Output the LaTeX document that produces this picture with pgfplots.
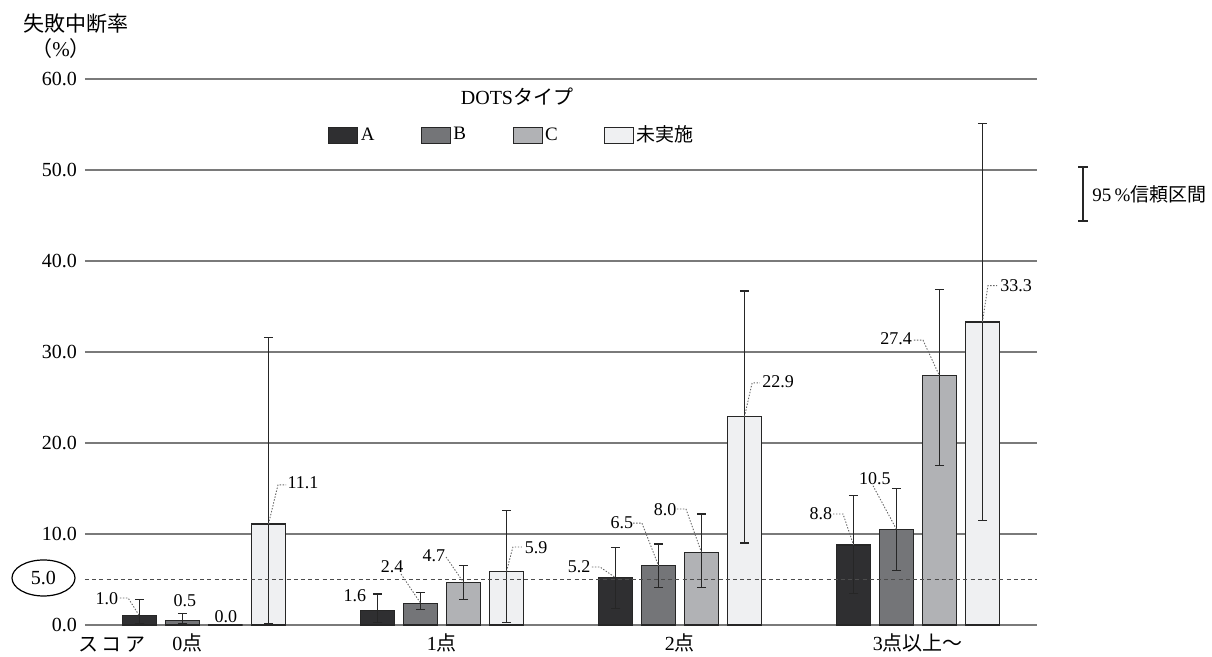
\documentclass[border=0pt]{standalone}
\usepackage{pgfplots}
\usepackage{pgfplotstable}
\pgfplotsset{compat=1.18}
\usetikzlibrary{shapes.geometric}
\usepackage{fontspec}
\setmainfont{Liberation Serif}
\newfontfamily\cjk{Noto Sans CJK JP}
\definecolor{colA}{HTML}{2F2F31}
\definecolor{colB}{HTML}{747578}
\definecolor{colC}{HTML}{B1B2B5}
\definecolor{colD}{HTML}{EFF0F2}
\definecolor{gridc}{HTML}{7A7A7A}

\pgfplotstableread{
x y lo hi
0 1.0 0.2 2.8
1 1.6 0.3 3.4
2 5.2 1.8 8.5
3 8.8 3.5 14.2
}\dataA
\pgfplotstableread{
x y lo hi
0 0.5 0.2 1.3
1 2.4 1.7 3.6
2 6.5 4.1 8.9
3 10.5 6.0 15.0
}\dataB
\pgfplotstableread{
x y lo hi
0 0.0 0.0 0.0
1 4.7 2.8 6.5
2 8.0 4.1 12.2
3 27.4 17.5 36.9
}\dataC
\pgfplotstableread{
x y lo hi
0 11.1 0.2 31.6
1 5.9 0.3 12.6
2 22.9 9.0 36.7
3 33.3 11.5 55.1
}\dataD

\tikzset{lead/.style={draw=black!60, line width=0.45pt, dash pattern=on 0.7pt off 0.8pt},
         vl/.style={font=\fontsize{9}{10}\selectfont, inner sep=0pt}}
\pgfplotsset{ebar/.style={error bars/.cd, y dir=both, y explicit,
    error bar style={black!85, line width=0.6pt},
    error mark options={rotate=90, black!85, line width=0.6pt, mark size=2.3pt}}}

\begin{document}
\begin{tikzpicture}
\path[use as bounding box] (0pt,0pt) rectangle (606pt,328.5pt);
\begin{axis}[
  at={(42.5pt,16pt)}, anchor=south west,
  width=476pt, height=273pt, scale only axis,
  xmin=-0.5, xmax=3.5, ymin=0, ymax=60,
  clip=false,
  axis line style={draw=none},
  major tick length=0pt,
  ytick={0,10,20,30,40,50,60},
  ymajorgrids, grid style={draw=gridc, line width=0.6pt},
  yticklabel style={/pgf/number format/fixed, /pgf/number format/fixed zerofill, /pgf/number format/precision=1, /pgf/number format/assume math mode=true, font=\fontsize{10}{12}\selectfont, xshift=-0.5pt},
  xtick={-0.07,1,2,3},
  xticklabels={{0{\cjk 点}},{1{\cjk 点}},{2{\cjk 点}},{3{\cjk 点以上～}}},
  xticklabel style={font=\fontsize{10}{12}\selectfont, yshift=-1pt},
  legend columns=4,
  legend style={at={(0.255,0.897)}, anchor=west, draw=none, fill=none, inner sep=0pt,
    nodes={font=\fontsize{9.5}{11}\selectfont, inner sep=1.2pt},
    /tikz/every even column/.append style={column sep=22pt}},
  legend image code/.code={\draw[#1, line width=0.6pt] (0pt,-4pt) rectangle (14.5pt,4pt);},
]
\addplot[ybar, bar width=0.145, bar shift=0pt, fill=colA, draw=black!85, line width=0.6pt, ebar]
  table[x expr=\thisrow{x}-0.271, y=y, y error plus expr=\thisrow{hi}-\thisrow{y}, y error minus expr=\thisrow{y}-\thisrow{lo}] {\dataA};
\addplot[ybar, bar width=0.145, bar shift=0pt, fill=colB, draw=black!85, line width=0.6pt, ebar]
  table[x expr=\thisrow{x}-0.090, y=y, y error plus expr=\thisrow{hi}-\thisrow{y}, y error minus expr=\thisrow{y}-\thisrow{lo}] {\dataB};
\addplot[ybar, bar width=0.145, bar shift=0pt, fill=colC, draw=black!85, line width=0.6pt, ebar]
  table[x expr=\thisrow{x}+0.090, y=y, y error plus expr=\thisrow{hi}-\thisrow{y}, y error minus expr=\thisrow{y}-\thisrow{lo}] {\dataC};
\addplot[ybar, bar width=0.145, bar shift=0pt, fill=colD, draw=black!85, line width=0.6pt, ebar]
  table[x expr=\thisrow{x}+0.271, y=y, y error plus expr=\thisrow{hi}-\thisrow{y}, y error minus expr=\thisrow{y}-\thisrow{lo}] {\dataD};
\legend{A,B,C,{\cjk 未実施}}

% reference line at 5.0
\addplot[draw=black!70, line width=0.6pt, dash pattern=on 2pt off 1.6pt, forget plot] coordinates {(-0.5,5) (3.5,5)};

% value labels and leader lines
\node[vl] at (axis cs:-0.408,2.86) {1.0};
\draw[lead] (axis cs:-0.353,2.97) -- (axis cs:-0.319,2.97) -- (axis cs:-0.271,1.0);
\node[vl] at (axis cs:-0.080,2.64) {0.5};
\node[vl] at (axis cs:0.092,0.9) {0.0};
\node[vl] at (axis cs:0.416,15.6) {11.1};
\draw[lead] (axis cs:0.271,11.1) -- (axis cs:0.311,15.4) -- (axis cs:0.345,15.4);

\node[vl] at (axis cs:0.634,3.19) {1.6};
\node[vl] at (axis cs:0.790,6.37) {2.4};
\draw[lead] (axis cs:0.828,5.6) -- (axis cs:0.910,2.4);
\node[vl] at (axis cs:0.966,7.58) {4.7};
\draw[lead] (axis cs:1.017,7.47) -- (axis cs:1.090,4.7);
\node[vl] at (axis cs:1.395,8.46) {5.9};
\draw[lead] (axis cs:1.271,5.9) -- (axis cs:1.298,8.57) -- (axis cs:1.336,8.57);

\node[vl] at (axis cs:1.576,6.37) {5.2};
\draw[lead] (axis cs:1.630,6.37) -- (axis cs:1.664,6.37) -- (axis cs:1.729,5.2);
\node[vl] at (axis cs:1.756,11.2) {6.5};
\draw[lead] (axis cs:1.803,11.2) -- (axis cs:1.840,11.2) -- (axis cs:1.910,6.5);
\node[vl] at (axis cs:1.937,12.64) {8.0};
\draw[lead] (axis cs:1.987,12.75) -- (axis cs:2.025,12.75) -- (axis cs:2.090,8.0);
\node[vl] at (axis cs:2.412,26.7) {22.9};
\draw[lead] (axis cs:2.271,22.9) -- (axis cs:2.303,26.6) -- (axis cs:2.336,26.6);

\node[vl] at (axis cs:2.592,12.2) {8.8};
\draw[lead] (axis cs:2.643,12.2) -- (axis cs:2.685,12.2) -- (axis cs:2.729,8.8);
\node[vl] at (axis cs:2.819,16.1) {10.5};
\draw[lead] (axis cs:2.811,15.3) -- (axis cs:2.910,10.5);
\node[vl] at (axis cs:2.908,31.5) {27.4};
\draw[lead] (axis cs:2.983,31.3) -- (axis cs:3.021,31.3) -- (axis cs:3.090,27.4);
\node[vl] at (axis cs:3.412,37.3) {33.3};
\draw[lead] (axis cs:3.271,33.3) -- (axis cs:3.294,37.3) -- (axis cs:3.332,37.3);
\end{axis}

% titles and annotations
\node[font=\fontsize{10.5}{12}\selectfont] at (38pt,316.5pt) {\cjk 失敗中断率};
\node[font=\fontsize{10.5}{12}\selectfont] at (30.5pt,304pt) {{\cjk （}\%{\cjk ）}};
\node[font=\fontsize{10}{12}\selectfont] at (258.5pt,280pt) {DOTS{\cjk タイプ}};
\node[draw=black, line width=0.6pt, ellipse, minimum width=31.5pt, minimum height=18pt, inner sep=0pt, font=\fontsize{10}{12}\selectfont] at (21.75pt,39.5pt) {5.0};
\node[font=\fontsize{10}{12}\selectfont] at (56pt,6pt) {\cjk ス\,コ\,ア};
% 95% CI legend
\draw[black!85, line width=0.6pt] (541.5pt,245pt) -- (541.5pt,218pt);
\draw[black!85, line width=0.6pt] (539.2pt,245pt) -- (543.8pt,245pt);
\draw[black!85, line width=0.6pt] (539.2pt,218pt) -- (543.8pt,218pt);
\node[anchor=west, font=\fontsize{9.5}{12}\selectfont, inner sep=0pt] at (546pt,231.5pt) {95\,\%{\cjk 信頼区間}};
\end{tikzpicture}
\end{document}
